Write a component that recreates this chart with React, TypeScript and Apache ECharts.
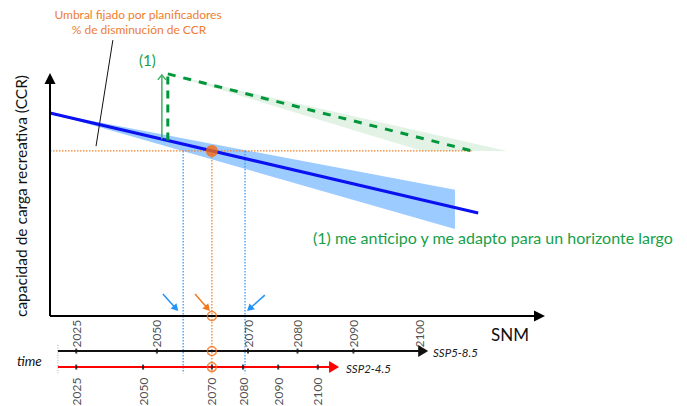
import React, { useEffect, useRef } from "react";
import * as echarts from "echarts";

// ---- CCR trajectory over SNM ----
const ccrLineSnm = [0, 86.5];
const ccrLineValues = [83.5, 42.4];
// uncertainty band around trajectory
const bandSnm = [0, 81.8];
const bandUpper = [83.5, 51.9];
const bandLower = [83.5, 35.8];
// threshold fixed by planners
const thresholdCcr = 67.9;
const thresholdEndSnm = 85.3;
const crossingSnm = 32.7;
const bandCrossingSnm = [26.9, 39.4];
// adaptation (1)
const adaptStartSnm = 23.8;
const adaptTopCcr = 99.6;
const adaptArrowSnm = 22.6;
const adaptArrowTopCcr = 99.2;
const adaptBandSnm = [23.8, 92.3, 75.2];
const adaptBandCcr = [99.6, 67.9, 67.9];
// leader line of the threshold annotation
const leaderSnm = [12.7, 9.3];
const leaderCcr = [113.5, 69.9];

// ---- time lines (year positions expressed in SNM) ----
const timelineNames = ["SSP5-8.5", "SSP2-4.5"];
const timelineLevels = [-14.4, -21.0];
const timelineStartSnm = 1.6;
const timelineEndSnm = [76.4, 58.4];
const yearLabels = ["2025", "2050", "2070", "2080", "2090", "2100"];
const ssp585Snm = [5.3, 21.6, 40.0, 50.0, 61.3, 74.7];
const ssp245Snm = [5.3, 18.8, 32.7, 39.0, 46.1, 54.1];
const guideBottomCcr = -23.5;
const timeGuideTopCcr = -11.9;

// ---- pointer arrows near the SNM axis ----
const bluePointers = [
  [22.8, 9.05, 25.9, 2.06],
  [43.4, 8.6, 39.8, 2.06],
];
const orangePointers = [[29.3, 9.05, 32.3, 2.06]];

const FONT = "Lato";

function lineAt(x: number) {
  const t = (x - ccrLineSnm[0]) / (ccrLineSnm[1] - ccrLineSnm[0]);
  return ccrLineValues[0] + t * (ccrLineValues[1] - ccrLineValues[0]);
}

function arrowSeries(
  data: number[][],
  color: string,
  width: number,
  headLen: number,
  headHalf: number,
  open: boolean,
  z: number
) {
  return {
    type: "custom",
    coordinateSystem: "cartesian2d",
    silent: true,
    z,
    data,
    renderItem: (_p: any, api: any) => {
      const p1 = api.coord([api.value(0), api.value(1)]);
      const p2 = api.coord([api.value(2), api.value(3)]);
      const dx = p2[0] - p1[0];
      const dy = p2[1] - p1[1];
      const len = Math.hypot(dx, dy) || 1;
      const ux = dx / len;
      const uy = dy / len;
      const nx = -uy;
      const ny = ux;
      const bx = p2[0] - ux * headLen;
      const by = p2[1] - uy * headLen;
      const left = [bx + nx * headHalf, by + ny * headHalf];
      const right = [bx - nx * headHalf, by - ny * headHalf];
      const end = open ? p2 : [bx + ux * 1, by + uy * 1];
      return {
        type: "group",
        children: [
          {
            type: "line",
            shape: { x1: p1[0], y1: p1[1], x2: end[0], y2: end[1] },
            style: { stroke: color, lineWidth: width },
          },
          open
            ? {
                type: "polyline",
                shape: { points: [left, p2, right] },
                style: { stroke: color, lineWidth: width, fill: null },
              }
            : {
                type: "polygon",
                shape: { points: [left, p2, right] },
                style: { fill: color },
              },
        ],
      };
    },
  };
}

function polygonSeries(xs: number[], ys: number[], color: string, z: number) {
  return {
    type: "custom",
    coordinateSystem: "cartesian2d",
    silent: true,
    z,
    data: [[xs[0], ys[0]]],
    renderItem: (_p: any, api: any) => ({
      type: "polygon",
      shape: { points: xs.map((x, i) => api.coord([x, ys[i]])) },
      style: { fill: color },
    }),
  };
}

function segment(points: number[][], color: string, width: number, type: any, z: number) {
  return {
    type: "line",
    data: points,
    symbol: "none",
    silent: true,
    z,
    lineStyle: { color, width, type },
  };
}

function ticksSeries(xs: number[], level: number, above: boolean) {
  return {
    type: "scatter",
    silent: true,
    z: 7,
    symbol: "rect",
    symbolSize: [2, 5],
    itemStyle: { color: "#111" },
    data: xs.map((x, i) => ({ value: [x, level], name: yearLabels[i] })),
    label: {
      show: true,
      formatter: (p: any) => p.name,
      position: above ? "top" : "bottom",
      distance: above ? 1 : 8,
      rotate: 90,
      align: above ? "left" : "right",
      verticalAlign: "middle",
      fontSize: 12,
      fontFamily: FONT,
      color: "#222",
    },
  };
}

function buildOption() {
  const bandXs = [bandSnm[0], bandSnm[1], bandSnm[1], bandSnm[0]];
  const bandYs = [bandUpper[0], bandUpper[1], bandLower[1], bandLower[0]];
  const series: any[] = [
    polygonSeries(adaptBandSnm, adaptBandCcr, "#e2f3e6", 1),
    polygonSeries(bandXs, bandYs, "#9ccbff", 2),
    segment([[0, thresholdCcr], [thresholdEndSnm, thresholdCcr]], "#f0842f", 1.2, [1.5, 1.5], 3),
    segment(
      ccrLineSnm.map((x, i) => [x, ccrLineValues[i]]),
      "#0a10f0",
      3,
      "solid",
      4
    ),
    segment(
      [[adaptStartSnm, adaptTopCcr], [thresholdEndSnm, thresholdCcr]],
      "#00963c",
      3,
      [8, 8],
      4
    ),
    segment(
      [[adaptStartSnm, lineAt(adaptStartSnm)], [adaptStartSnm, adaptTopCcr]],
      "#00963c",
      3,
      [8, 6],
      4
    ),
    arrowSeries(
      [[adaptArrowSnm, lineAt(adaptArrowSnm), adaptArrowSnm, adaptArrowTopCcr]],
      "#3cb063",
      1.5,
      5,
      4,
      true,
      5
    ),
    segment([[leaderSnm[0], leaderCcr[0]], [leaderSnm[1], leaderCcr[1]]], "#111", 1, "solid", 5),
    ...bandCrossingSnm.map((x) =>
      segment([[x, thresholdCcr], [x, guideBottomCcr]], "#3b9bf5", 1.3, [1.5, 1.5], 3)
    ),
    segment([[crossingSnm, thresholdCcr], [crossingSnm, guideBottomCcr]], "#f0842f", 1.3, [1.5, 1.5], 3),
    segment(
      [[timelineStartSnm, timeGuideTopCcr], [timelineStartSnm, guideBottomCcr]],
      "#aaa",
      1,
      [1, 1.5],
      3
    ),
    // main axes
    arrowSeries([[0, 0, 100, 0], [0, 0, 0, 100]], "#000", 2, 11, 5.5, false, 6),
    // timelines
    arrowSeries(
      [[timelineStartSnm, timelineLevels[0], timelineEndSnm[0], timelineLevels[0]]],
      "#111",
      2,
      10,
      6,
      false,
      6
    ),
    arrowSeries(
      [[timelineStartSnm, timelineLevels[1], timelineEndSnm[1], timelineLevels[1]]],
      "#ff0000",
      2,
      10,
      6,
      false,
      6
    ),
    ticksSeries(ssp585Snm, timelineLevels[0], true),
    ticksSeries(ssp245Snm, timelineLevels[1], false),
    arrowSeries(bluePointers, "#2393f5", 1.5, 7, 4, false, 6),
    arrowSeries(orangePointers, "#f07a22", 1.5, 7, 4, false, 6),
    {
      type: "scatter",
      silent: true,
      z: 8,
      symbol: "circle",
      symbolSize: 9,
      itemStyle: { color: "rgba(255,255,255,0)", borderColor: "#f26a12", borderWidth: 1.5 },
      data: [[crossingSnm, 0], [crossingSnm, timelineLevels[0]], [crossingSnm, timelineLevels[1]]],
    },
    {
      type: "scatter",
      silent: true,
      z: 8,
      symbol: "circle",
      symbolSize: 12,
      itemStyle: { color: "#f76a0c" },
      data: [[crossingSnm, thresholdCcr]],
    },
  ];

  return {
    animation: false,
    backgroundColor: "#ffffff",
    textStyle: { fontFamily: FONT },
    grid: { left: 50, width: 495, top: 0, height: 406 },
    xAxis: { type: "value", min: 0, max: 100, show: false },
    yAxis: { type: "value", min: -37, max: 130, show: false },
    series,
    graphic: [
      {
        type: "text",
        x: 138,
        y: 14,
        style: {
          text: "Umbral fijado por planificadores",
          fill: "#ed7d31",
          font: `12px ${FONT}`,
          align: "center",
          verticalAlign: "middle",
        },
      },
      {
        type: "text",
        x: 139,
        y: 29,
        style: {
          text: "% de disminución de CCR",
          fill: "#ed7d31",
          font: `12px ${FONT}`,
          align: "center",
          verticalAlign: "middle",
        },
      },
      {
        type: "text",
        x: 139,
        y: 60,
        style: {
          text: "(1)",
          fill: "#17a04a",
          font: `15px ${FONT}`,
          align: "left",
          verticalAlign: "middle",
        },
      },
      {
        type: "text",
        x: 21,
        y: 196,
        rotation: Math.PI / 2,
        style: {
          text: "capacidad de carga recreativa (CCR)",
          fill: "#111",
          font: `15.5px ${FONT}`,
          align: "center",
          verticalAlign: "middle",
        },
      },
      {
        type: "text",
        x: 510,
        y: 334,
        style: {
          text: "SNM",
          fill: "#111",
          font: `17px ${FONT}`,
          align: "center",
          verticalAlign: "middle",
        },
      },
      {
        type: "text",
        x: 313,
        y: 237,
        style: {
          text: "(1) me anticipo y me adapto para un horizonte largo",
          fill: "#17a04a",
          font: `16px ${FONT}`,
          align: "left",
          verticalAlign: "middle",
        },
      },
      {
        type: "text",
        x: 17,
        y: 361,
        style: {
          text: "time",
          fill: "#111",
          font: `italic 13.5px ${FONT}`,
          align: "left",
          verticalAlign: "middle",
        },
      },
      {
        type: "text",
        x: 433,
        y: 352,
        style: {
          text: timelineNames[0],
          fill: "#222",
          font: `italic 11.5px ${FONT}`,
          align: "left",
          verticalAlign: "middle",
        },
      },
      {
        type: "text",
        x: 346,
        y: 368,
        style: {
          text: timelineNames[1],
          fill: "#222",
          font: `italic 11.5px ${FONT}`,
          align: "left",
          verticalAlign: "middle",
        },
      },
    ],
  };
}

export default function App() {
  const ref = useRef<HTMLDivElement>(null);
  useEffect(() => {
    if (!ref.current) return;
    const chart = echarts.init(ref.current, undefined, { renderer: "svg" });
    chart.setOption(buildOption() as any);
    return () => chart.dispose();
  }, []);
  return (
    <div
      ref={ref}
      style={{ position: "fixed", left: 0, top: 0, width: 687, height: 406, background: "#fff" }}
    />
  );
}
